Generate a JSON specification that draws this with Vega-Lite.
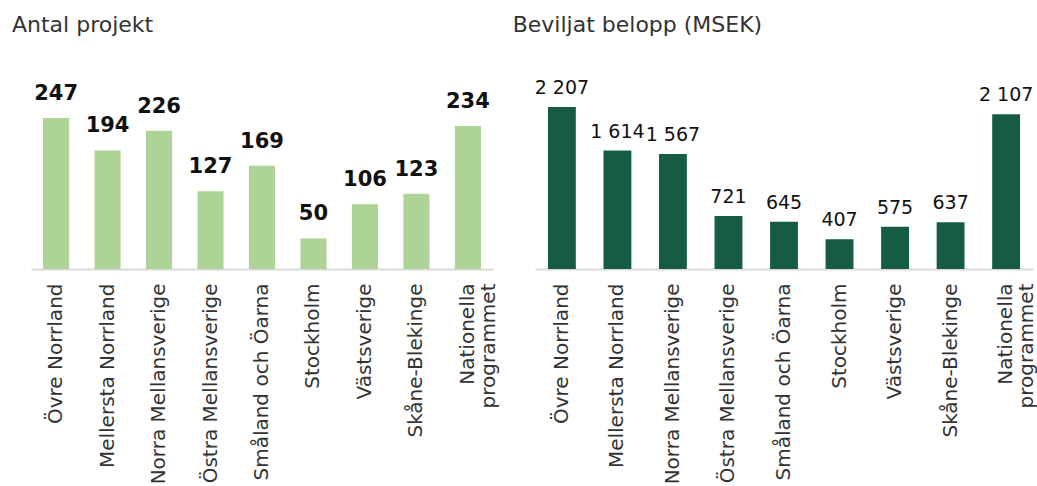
{
  "$schema": "https://vega.github.io/schema/vega-lite/v6.json",
  "padding": {"left": 12, "top": 14, "right": 0, "bottom": 0},
  "autosize": {"type": "pad"},
  "background": "white",
  "config": {
    "font": "DejaVu Sans",
    "view": {"stroke": null},
    "locale": {"number": {"decimal": ",", "thousands": "\u00a0", "grouping": [3], "currency": ["", " kr"]}},
    "title": {"anchor": "start", "fontSize": 22, "fontWeight": "normal", "color": "#333333", "offset": 22, "font": "DejaVu Sans"},
    "concat": {"spacing": 13},
    "axisX": {
      "domainColor": "#d9d9d9", "domainWidth": 2, "ticks": false, "labelAngle": -90,
      "labelAlign": "right", "labelBaseline": "middle", "labelPadding": 14,
      "labelFontSize": 20, "labelColor": "#333333", "labelLimit": 400, "labelLineHeight": 21,
      "labelFont": "DejaVu Sans", "title": null, "grid": false
    }
  },
  "data": {"values": [
    {"region": "Övre Norrland", "antal": 247, "belopp": 2207},
    {"region": "Mellersta Norrland", "antal": 194, "belopp": 1614},
    {"region": "Norra Mellansverige", "antal": 226, "belopp": 1567},
    {"region": "Östra Mellansverige", "antal": 127, "belopp": 721},
    {"region": "Småland och Öarna", "antal": 169, "belopp": 645},
    {"region": "Stockholm", "antal": 50, "belopp": 407},
    {"region": "Västsverige", "antal": 106, "belopp": 575},
    {"region": "Skåne-Blekinge", "antal": 123, "belopp": 637},
    {"region": "Nationella programmet", "antal": 234, "belopp": 2107}
  ]},
  "hconcat": [
    {
      "width": 462, "height": 210,
      "title": {"text": "Antal projekt", "dx": -19},
      "encoding": {
        "x": {"field": "region", "type": "nominal", "sort": null,
          "scale": {"paddingInner": 0.493, "paddingOuter": 0.234},
          "axis": {"labelExpr": "datum.label == 'Nationella programmet' ? ['Nationella', 'programmet'] : datum.label"}}
      },
      "layer": [
        {"mark": {"type": "bar", "color": "#aed396"},
         "encoding": {"y": {"field": "antal", "type": "quantitative", "scale": {"domain": [0, 343.5], "nice": false}, "axis": null}}},
        {"mark": {"type": "text", "baseline": "alphabetic", "dy": -18, "fontSize": 21, "fontWeight": "bold", "color": "#111111"},
         "encoding": {"y": {"field": "antal", "type": "quantitative"},
           "text": {"field": "antal", "type": "quantitative", "format": ",d"}}}
      ]
    },
    {
      "width": 498, "height": 210,
      "title": {"text": "Beviljat belopp (MSEK)", "dx": -22},
      "encoding": {
        "x": {"field": "region", "type": "nominal", "sort": null,
          "scale": {"paddingInner": 0.498, "paddingOuter": 0.233},
          "axis": {"labelExpr": "datum.label == 'Nationella programmet' ? ['Nationella', 'programmet'] : datum.label"}}
      },
      "layer": [
        {"mark": {"type": "bar", "color": "#165c42"},
         "encoding": {"y": {"field": "belopp", "type": "quantitative", "scale": {"domain": [0, 2861], "nice": false}, "axis": null}}},
        {"mark": {"type": "text", "baseline": "alphabetic", "dy": -13, "fontSize": 19, "fontWeight": "normal", "color": "#111111"},
         "encoding": {"y": {"field": "belopp", "type": "quantitative"},
           "text": {"field": "belopp", "type": "quantitative", "format": ",d"}}}
      ]
    }
  ]
}
